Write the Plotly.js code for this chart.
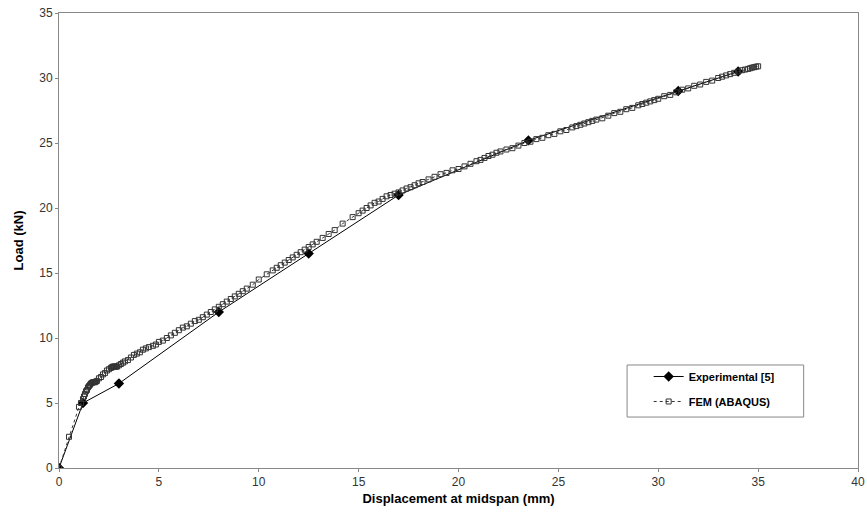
<!DOCTYPE html>
<html>
<head>
<meta charset="utf-8">
<script src="https://cdn.plot.ly/plotly-3.0.1.min.js"></script>
<style>html,body{margin:0;padding:0;background:#fff;}#chart{width:867px;height:520px;}</style>
</head>
<body>
<div id="chart"></div>
<script>
const expX = [0, 1.2, 3.0, 8.0, 12.5, 17.0, 23.5, 31.0, 34.0];
const expY = [0, 5.0, 6.5, 12.0, 16.5, 21.0, 25.2, 29.0, 30.5];

const femX = [0, 0.5, 1.0, 1.1, 1.2, 1.25, 1.3, 1.35, 1.4, 1.45, 1.5, 1.55, 1.6, 1.65, 1.7, 1.75, 1.8, 1.85, 1.9, 2.0, 2.1, 2.2, 2.3, 2.4, 2.5, 2.6, 2.65, 2.7, 2.75, 2.8, 2.85, 2.9, 3.0, 3.1, 3.2, 3.3, 3.45, 3.6, 3.75, 3.9, 4.05, 4.2, 4.35, 4.5, 4.7, 4.85, 5.0, 5.2, 5.4, 5.6, 5.8, 6.0, 6.2, 6.4, 6.6, 6.8, 7.0, 7.2, 7.4, 7.6, 7.8, 8.0, 8.2, 8.4, 8.6, 8.8, 9.0, 9.2, 9.4, 9.7, 10.0, 10.4, 10.7, 10.9, 11.1, 11.3, 11.5, 11.7, 11.9, 12.1, 12.3, 12.5, 12.7, 12.9, 13.2, 13.5, 13.8, 14.2, 14.7, 15.0, 15.2, 15.4, 15.6, 15.8, 16.0, 16.2, 16.4, 16.6, 16.8, 17.0, 17.2, 17.4, 17.6, 17.8, 18.0, 18.2, 18.5, 18.8, 19.1, 19.4, 19.7, 20.0, 20.3, 20.6, 20.9, 21.1, 21.3, 21.5, 21.7, 21.9, 22.1, 22.4, 22.7, 23.0, 23.3, 23.6, 23.9, 24.2, 24.5, 24.8, 25.1, 25.4, 25.7, 25.9, 26.1, 26.3, 26.5, 26.7, 26.9, 27.2, 27.5, 27.8, 28.1, 28.4, 28.7, 29.0, 29.2, 29.4, 29.6, 29.8, 30.0, 30.3, 30.6, 30.9, 31.2, 31.5, 31.8, 32.1, 32.4, 32.7, 33.0, 33.2, 33.4, 33.6, 33.8, 34.0, 34.2, 34.35, 34.5, 34.6, 34.7, 34.8, 34.9, 35.0];
const femY = [0, 2.4, 4.7, 5.0, 5.3, 5.5, 5.7, 5.9, 6.0, 6.2, 6.3, 6.4, 6.5, 6.55, 6.6, 6.6, 6.6, 6.65, 6.7, 6.9, 7.0, 7.2, 7.3, 7.5, 7.6, 7.7, 7.75, 7.8, 7.8, 7.8, 7.8, 7.8, 7.9, 8.0, 8.1, 8.2, 8.3, 8.5, 8.7, 8.8, 8.9, 9.1, 9.2, 9.3, 9.4, 9.5, 9.7, 9.8, 10.0, 10.2, 10.4, 10.6, 10.8, 10.9, 11.1, 11.3, 11.4, 11.6, 11.8, 12.0, 12.2, 12.4, 12.6, 12.8, 13.0, 13.2, 13.4, 13.6, 13.8, 14.1, 14.5, 14.9, 15.2, 15.4, 15.6, 15.8, 16.0, 16.2, 16.4, 16.6, 16.8, 17.0, 17.2, 17.4, 17.7, 18.0, 18.3, 18.8, 19.3, 19.6, 19.8, 20.0, 20.2, 20.4, 20.5, 20.7, 20.9, 21.0, 21.1, 21.2, 21.35, 21.5, 21.6, 21.75, 21.9, 22.0, 22.2, 22.4, 22.6, 22.7, 22.9, 23.0, 23.2, 23.4, 23.6, 23.7, 23.85, 24.0, 24.1, 24.25, 24.35, 24.5, 24.6, 24.8, 25.0, 25.1, 25.3, 25.4, 25.6, 25.7, 25.9, 26.0, 26.2, 26.3, 26.4, 26.5, 26.6, 26.7, 26.8, 26.9, 27.1, 27.3, 27.4, 27.6, 27.7, 27.9, 28.0, 28.1, 28.2, 28.3, 28.4, 28.6, 28.7, 28.9, 29.1, 29.2, 29.4, 29.5, 29.7, 29.8, 30.0, 30.1, 30.2, 30.3, 30.4, 30.5, 30.6, 30.65, 30.7, 30.75, 30.8, 30.83, 30.87, 30.9];

const xTicks = [0, 5, 10, 15, 20, 25, 30, 35, 40];
const yTicks = [0, 5, 10, 15, 20, 25, 30, 35];

const traces = [
  {
    x: expX, y: expY, name: 'Experimental [5]', type: 'scatter', mode: 'lines+markers',
    legendgroup: 'a',
    line: {color: '#000', width: 1},
    marker: {symbol: 'diamond', size: 8, color: '#000'}
  },
  {
    x: femX, y: femY, name: 'FEM (ABAQUS)', type: 'scatter', mode: 'lines+markers',
    legendgroup: 'b',
    line: {color: '#333', width: 1, dash: 'dot'},
    marker: {symbol: 'square-open', size: 5, color: '#333', line: {width: 1}}
  }
];

const fam = 'Liberation Sans, Arial, sans-serif';
const axisFont = {family: fam, size: 12, color: '#333'};
const layout = {
  width: 867, height: 520,
  margin: {l: 59, r: 9, t: 13, b: 52},
  paper_bgcolor: '#fff', plot_bgcolor: '#fff',
  showlegend: true,
  legend: {
    x: 0.738, y: 0.233, xanchor: 'left', yanchor: 'top',
    bgcolor: 'rgba(0,0,0,0)', borderwidth: 0,
    font: {family: fam, size: 11, color: '#000', weight: 'bold'},
    itemwidth: 30,
    tracegroupgap: 6
  },
  shapes: [{
    type: 'rect', xref: 'paper', yref: 'paper',
    x0: 0.711, x1: 0.932, y0: 0.112, y1: 0.2264,
    line: {color: '#888', width: 1}, fillcolor: 'rgba(255,255,255,1)', layer: 'below'
  }],
  xaxis: {
    range: [0, 40], tickvals: xTicks, ticktext: xTicks.map(String),
    showgrid: false, zeroline: false, showline: true, linecolor: '#888', linewidth: 1, mirror: true,
    ticks: 'outside', ticklen: 3, tickcolor: '#888', tickfont: axisFont,
    title: {text: '<b>Displacement at midspan (mm)</b>', font: {family: fam, size: 13, color: '#000'}, standoff: 5}
  },
  yaxis: {
    range: [0, 35], tickvals: yTicks, ticktext: yTicks.map(String),
    showgrid: false, zeroline: false, showline: true, linecolor: '#888', linewidth: 1, mirror: true,
    ticks: 'outside', ticklen: 3, tickcolor: '#888', tickfont: axisFont,
    title: {text: '<b>Load (kN)</b>', font: {family: fam, size: 13, color: '#000'}, standoff: 12}
  }
};

Plotly.newPlot('chart', traces, layout, {displayModeBar: false, staticPlot: true});
</script>
</body>
</html>
